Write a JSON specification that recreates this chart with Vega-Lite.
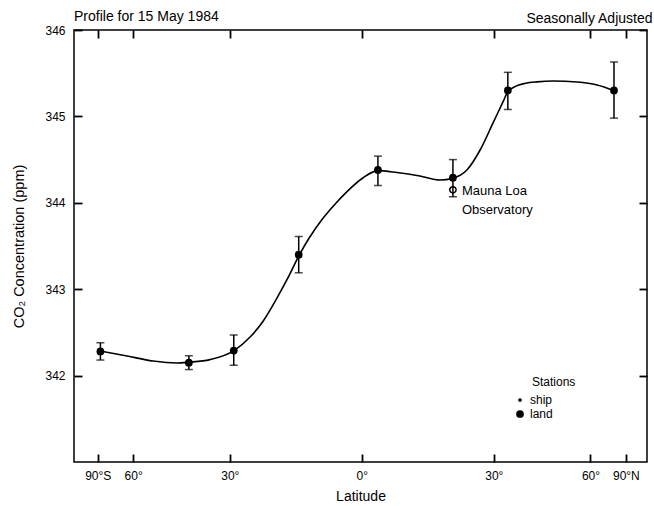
{
  "$schema": "https://vega.github.io/schema/vega-lite/v6.json",
  "width": 573,
  "height": 432,
  "autosize": {"type": "none"},
  "padding": {"left": 74, "top": 30, "right": 7, "bottom": 44},
  "background": "white",
  "config": {
    "font": "Liberation Sans",
    "view": {"stroke": "black", "strokeWidth": 1.5},
    "axis": {
      "grid": false,
      "domain": false,
      "ticks": true,
      "tickSize": 8,
      "offset": -8,
      "tickColor": "black",
      "tickWidth": 1.8,
      "tickOpacity": 1,
      "labelColor": "black",
      "titleColor": "black",
      "labelFont": "Liberation Sans",
      "titleFont": "Liberation Sans",
      "labelFontSize": 12,
      "titleFontSize": 14,
      "titleFontWeight": "normal"
    }
  },
  "title": {
    "text": "Profile for 15 May 1984",
    "anchor": "start",
    "frame": "group",
    "fontSize": 14,
    "fontWeight": "normal",
    "font": "Liberation Sans",
    "color": "black",
    "dy": 17
  },
  "datasets": {
    "stations": [
      {"sinlat": -0.99, "co2": 342.28, "lo": 342.18, "hi": 342.38, "type": "land"},
      {"sinlat": -0.655, "co2": 342.15, "lo": 342.07, "hi": 342.23, "type": "land"},
      {"sinlat": -0.485, "co2": 342.29, "lo": 342.12, "hi": 342.47, "type": "land"},
      {"sinlat": -0.239, "co2": 343.4, "lo": 343.19, "hi": 343.61, "type": "land"},
      {"sinlat": 0.061, "co2": 344.38, "lo": 344.2, "hi": 344.54, "type": "land"},
      {"sinlat": 0.345, "co2": 344.29, "lo": 344.07, "hi": 344.5, "type": "land"},
      {"sinlat": 0.553, "co2": 345.3, "lo": 345.08, "hi": 345.51, "type": "land"},
      {"sinlat": 0.955, "co2": 345.3, "lo": 344.98, "hi": 345.63, "type": "land"}
    ],
    "curve": [
      {"sinlat": -0.991, "co2": 342.285},
      {"sinlat": -0.889, "co2": 342.227},
      {"sinlat": -0.791, "co2": 342.169},
      {"sinlat": -0.7, "co2": 342.146},
      {"sinlat": -0.655, "co2": 342.155},
      {"sinlat": -0.575, "co2": 342.185},
      {"sinlat": -0.484, "co2": 342.29},
      {"sinlat": -0.423, "co2": 342.447},
      {"sinlat": -0.374, "co2": 342.63},
      {"sinlat": -0.321, "co2": 342.9},
      {"sinlat": -0.28, "co2": 343.13},
      {"sinlat": -0.238, "co2": 343.39},
      {"sinlat": -0.2, "co2": 343.59},
      {"sinlat": -0.15, "co2": 343.81},
      {"sinlat": -0.1, "co2": 343.99},
      {"sinlat": -0.056, "co2": 344.13},
      {"sinlat": 0.005, "co2": 344.29},
      {"sinlat": 0.061, "co2": 344.372},
      {"sinlat": 0.133, "co2": 344.35},
      {"sinlat": 0.22, "co2": 344.31},
      {"sinlat": 0.296, "co2": 344.264},
      {"sinlat": 0.345, "co2": 344.285},
      {"sinlat": 0.398, "co2": 344.38},
      {"sinlat": 0.448, "co2": 344.611},
      {"sinlat": 0.497, "co2": 344.924},
      {"sinlat": 0.535, "co2": 345.17},
      {"sinlat": 0.553, "co2": 345.285},
      {"sinlat": 0.58, "co2": 345.345},
      {"sinlat": 0.62, "co2": 345.383},
      {"sinlat": 0.663, "co2": 345.4},
      {"sinlat": 0.724, "co2": 345.41},
      {"sinlat": 0.815, "co2": 345.398},
      {"sinlat": 0.891, "co2": 345.363},
      {"sinlat": 0.955, "co2": 345.298}
    ],
    "mauna": [
      {"sinlat": 0.345, "co2": 344.15, "label": "Mauna Loa\nObservatory"}
    ]
  },
  "layer": [
    {
      "data": {"name": "curve"},
      "mark": {"type": "line", "interpolate": "monotone", "color": "black", "strokeWidth": 1.6},
      "encoding": {
        "x": {
          "field": "sinlat",
          "type": "quantitative",
          "scale": {"domain": [-1.09, 1.08], "nice": false, "zero": false},
          "axis": {
            "orient": "bottom",
            "values": [-1, -0.866, -0.5, 0, 0.5, 0.866, 1],
            "labelExpr": "datum.value < -0.95 ? '90°S' : datum.value < -0.7 ? '60°' : datum.value < -0.3 ? '30°' : datum.value < 0.3 ? '0°' : datum.value < 0.7 ? '30°' : datum.value < 0.95 ? '60°' : '90°N'",
            "labelPadding": 8,
            "title": "Latitude",
            "titlePadding": 8
          }
        },
        "y": {
          "field": "co2",
          "type": "quantitative",
          "scale": {"domain": [341, 346], "nice": false, "zero": false},
          "axis": {
            "orient": "left",
            "values": [342, 343, 344, 345, 346],
            "labelPadding": 9,
            "title": "CO₂ Concentration  (ppm)",
            "titleFontSize": 14.5,
            "titlePadding": 18
          }
        }
      }
    },
    {
      "data": {"name": "stations"},
      "mark": {
        "type": "errorbar",
        "color": "black",
        "ticks": {"size": 8, "thickness": 1.5, "color": "black"},
        "rule": {"strokeWidth": 1.5, "color": "black"}
      },
      "encoding": {
        "x": {
          "field": "sinlat",
          "type": "quantitative",
          "axis": {
            "orient": "top",
            "values": [-1, -0.866, -0.5, 0, 0.5, 0.866, 1],
            "labels": false,
            "title": "Seasonally Adjusted",
            "titleAnchor": "end",
            "titleAlign": "right",
            "titleX": 578,
            "titleY": -16,
            "titleBaseline": "alphabetic"
          }
        },
        "y": {
          "field": "lo",
          "type": "quantitative",
          "axis": {
            "orient": "right",
            "values": [342, 343, 344, 345, 346],
            "labels": false,
            "title": null
          }
        },
        "y2": {"field": "hi"}
      }
    },
    {
      "data": {"name": "stations"},
      "mark": {"type": "circle", "color": "black", "opacity": 1},
      "encoding": {
        "x": {"field": "sinlat", "type": "quantitative", "axis": null},
        "y": {"field": "co2", "type": "quantitative", "axis": null},
        "size": {
          "field": "type",
          "type": "ordinal",
          "scale": {"domain": ["ship", "land"], "range": [14, 60]},
          "legend": {
            "title": "\u2800\u2800Stations",
            "orient": "none",
            "legendX": 440,
            "legendY": 347,
            "titleFontSize": 12,
            "titleFontWeight": "normal",
            "titleColor": "black",
            "labelFontSize": 12,
            "labelColor": "black",
            "symbolFillColor": "black",
            "symbolStrokeWidth": 0,
            "symbolType": "circle",
            "rowPadding": 2
          }
        }
      }
    },
    {
      "data": {"name": "mauna"},
      "mark": {"type": "point", "shape": "circle", "filled": false, "color": "black", "strokeWidth": 1.5, "size": 40, "opacity": 1},
      "encoding": {
        "x": {"field": "sinlat", "type": "quantitative", "axis": null},
        "y": {"field": "co2", "type": "quantitative", "axis": null}
      }
    },
    {
      "data": {"name": "mauna"},
      "mark": {"type": "text", "align": "left", "baseline": "alphabetic", "dx": 9, "dy": 5, "lineHeight": 19, "lineBreak": "\n", "fontSize": 13, "color": "black"},
      "encoding": {
        "x": {"field": "sinlat", "type": "quantitative", "axis": null},
        "y": {"field": "co2", "type": "quantitative", "axis": null},
        "text": {"field": "label"}
      }
    }
  ],
  "resolve": {"axis": {"x": "independent", "y": "independent"}}
}
